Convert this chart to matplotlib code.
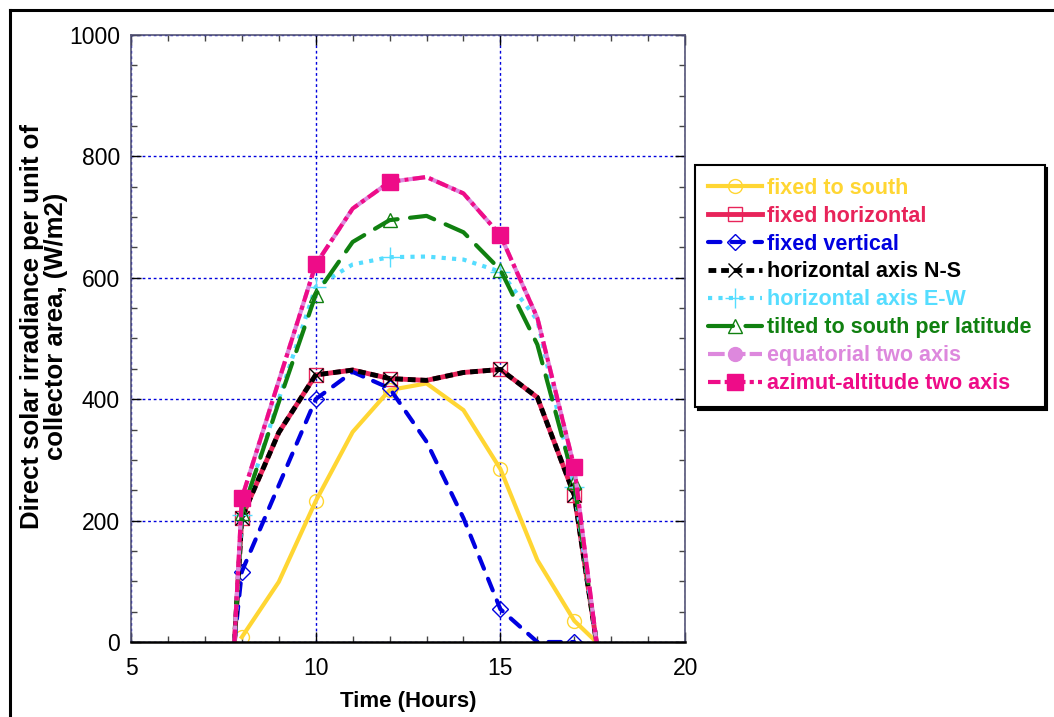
# Direct solar irradiance on collectors with different tracking modes

import numpy as np
import matplotlib.pyplot as plt
from matplotlib.ticker import MultipleLocator

plt.rcParams['font.family'] = ['Liberation Sans', 'DejaVu Sans']

# Data
hours = [7.8, 8, 9, 10, 11, 12, 13, 14, 15, 16, 17, 17.6]
hours_south = [8, 9, 10, 11, 12, 13, 14, 15, 16, 17, 17.6]

fixed_south = [8, 99, 232, 346, 415, 426, 382, 285, 135, 35, 0]
fixed_horizontal = [0, 205, 345, 440, 448, 434, 431, 444, 449, 403, 242, 0]
fixed_vertical = [0, 116, 258, 400, 445, 418, 330, 204, 54, 0, 0, np.nan]
axis_ns = [0, 205, 345, 440, 448, 434, 431, 444, 449, 403, 242, 0]
axis_ew = [0, 210, 400, 585, 622, 634, 635, 630, 610, 530, 255, 0]
tilted_south = [0, 212, 395, 572, 659, 695, 702, 675, 613, 490, 264, 0]
equatorial = [0, 237, 430, 622, 714, 758, 766, 739, 670, 534, 288, 0]
azimut_altitude = [0, 237, 430, 622, 714, 758, 766, 739, 670, 534, 288, 0]

marks = [1, 3, 5, 8, 10]  # markers at 8, 10, 12, 15, 17 h
marks_south = [0, 2, 4, 7, 9]

fig = plt.figure(figsize=(10.54, 7.17), dpi=100)
ax = fig.add_axes([0.1243, 0.1046, 0.5257, 0.8466])

lw = 3
ax.plot(hours_south, fixed_south, color='#FFD633', lw=lw, marker='o', ms=10,
        mfc='none', mew=1, markevery=marks_south, label='fixed to south')
ax.plot(hours, fixed_horizontal, color='#E8245A', lw=3.5, marker='s', ms=10,
        mfc='none', mew=1, markevery=marks, label='fixed horizontal')
ax.plot(hours, fixed_vertical, color='#0000E0', lw=lw, ls=(0, (3, 2.6)),
        dash_capstyle='round', marker='D', ms=8, mfc='none', mew=1,
        markevery=marks, label='fixed vertical')
ax.plot(hours, axis_ns, color='black', lw=3.5, ls=(0, (1.6, 1.0)),
        marker='x', ms=10, mew=1, markevery=marks, label='horizontal axis N-S')
ax.plot(hours, axis_ew, color='#55DDFF', lw=lw, ls=(0, (1, 1.5)),
        marker='+', ms=14, mew=1, markevery=marks, label='horizontal axis E-W')
ax.plot(hours, tilted_south, color='#108010', lw=lw, ls=(0, (6, 3)),
        dash_capstyle='round', marker='^', ms=10, mfc='none', mew=1,
        markevery=marks, label='tilted to south per latitude')
ax.plot(hours, equatorial, color='#DD88DD', lw=lw, ls=(0, (4, 1)),
        marker='o', ms=10, markevery=marks, label='equatorial two axis')
ax.plot(hours, azimut_altitude, color='#EE0C88', lw=lw, ls=(0, (3, 1, 1, 1)),
        marker='s', ms=11, markevery=marks, label='azimut-altitude two axis')

# Axes
ax.set_xlim(5, 20)
ax.set_ylim(0, 1000)
ax.xaxis.set_major_locator(MultipleLocator(5))
ax.xaxis.set_minor_locator(MultipleLocator(1))
ax.yaxis.set_major_locator(MultipleLocator(200))
ax.yaxis.set_minor_locator(MultipleLocator(50))
ax.tick_params(which='both', direction='in', top=True, right=True,
               labelsize=16.5)
ax.tick_params(axis='y', which='major', pad=8)
ax.tick_params(axis='x', which='major', pad=11)
ax.tick_params(which='major', length=7, width=1)
ax.tick_params(which='minor', length=4, width=1, color='#444444')
ax.grid(True, which='major', color='#0000DD', ls=(0, (2, 2)), lw=1)

for side in ['top', 'left', 'right']:
    ax.spines[side].set_color('#555577')
    ax.spines[side].set_linewidth(1.2)
ax.spines['bottom'].set_linewidth(1.8)

ax.set_xlabel('Time (Hours)', fontsize=16, fontweight='bold', labelpad=8)
ax.set_ylabel('Direct solar irradiance per unit of\ncollector area, (W/m2)',
              fontsize=18.5, fontweight='bold', linespacing=1.0)
ax.yaxis.set_label_coords(-0.114, 0.52)

# Legend with shadow
leg = ax.legend(loc='upper left', bbox_to_anchor=(0.6594, 0.77),
                bbox_transform=fig.transFigure, borderaxespad=0,
                fancybox=False, shadow={'color': 'black', 'alpha': 1},
                framealpha=1, edgecolor='black', numpoints=1,
                handlelength=2.5, handletextpad=0.25, labelspacing=0.32,
                prop={'size': 15.5, 'weight': 'bold'}, borderpad=0.6)
leg.get_frame().set_linewidth(1.5)
for text, line in zip(leg.get_texts(), leg.get_lines()):
    text.set_color(line.get_color())

# Outer frame (top and left edge only, rest is cut off)
fig.add_artist(plt.Line2D([0.0095, 0.0095], [0, 0.986], color='black', lw=2.2))
fig.add_artist(plt.Line2D([0.0095, 1], [0.986, 0.986], color='black', lw=2.2))

plt.savefig('out.png', dpi=100)
plt.close()
